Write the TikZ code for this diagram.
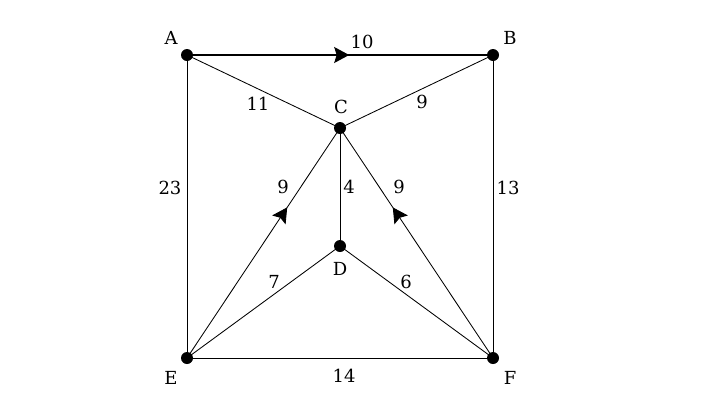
\documentclass[tikz,border=0pt]{standalone}
\usepackage{fontspec}
\setmainfont{DejaVu Serif}
\usetikzlibrary{arrows.meta,decorations.markings}
\begin{document}
\begin{tikzpicture}[x=1bp,y=-1bp,
  vtx/.style={circle,fill=black,inner sep=0pt,minimum size=12bp},
  lbl/.style={font=\fontsize{18bp}{20bp}\selectfont,inner sep=0pt},
  edge/.style={line width=0.85bp},
  mid/.style={postaction={decorate},decoration={markings,
     mark=at position #1 with {\arrow{Stealth[length=15bp,width=16bp,inset=2.5bp]}}}}]
\useasboundingbox (0,0) rectangle (720,405);
\node[vtx] (A) at (187,55) {};
\node[vtx] (B) at (493,55) {};
\node[vtx] (C) at (340,128) {};
\node[vtx] (D) at (340,246) {};
\node[vtx] (E) at (187,358) {};
\node[vtx] (F) at (493,358) {};
\draw[edge,line width=1.3bp,mid=0.53] (A.center) -- (B.center);
\draw[edge] (A.center) -- (C.center);
\draw[edge] (B.center) -- (C.center);
\draw[edge] (A.center) -- (E.center);
\draw[edge] (B.center) -- (F.center);
\draw[edge] (C.center) -- (D.center);
\draw[edge,mid=0.655] (E.center) -- (C.center);
\draw[edge,mid=0.655] (F.center) -- (C.center);
\draw[edge] (D.center) -- (E.center);
\draw[edge] (D.center) -- (F.center);
\draw[edge] (E.center) -- (F.center);
\node[lbl] (lA) at (171,38) {A};
\node[lbl] (lB) at (510,38) {B};
\node[lbl] (lC) at (341,107) {C};
\node[lbl] (lD) at (340,269) {D};
\node[lbl] (lE) at (171,378) {E};
\node[lbl] (lF) at (510,378) {F};
\node[lbl] (wAB) at (362,42) {10};
\node[lbl] (wAC) at (258,104) {11};
\node[lbl] (wBC) at (422,102) {9};
\node[lbl] (wAE) at (170,188) {23};
\node[lbl] (wEC) at (283,187) {9};
\node[lbl] (wCD) at (349,187) {4};
\node[lbl] (wFC) at (399,187) {9};
\node[lbl] (wBF) at (508,188) {13};
\node[lbl] (wDE) at (274,282) {7};
\node[lbl] (wDF) at (406,282) {6};
\node[lbl] (wEF) at (344,376) {14};
\end{tikzpicture}
\end{document}
